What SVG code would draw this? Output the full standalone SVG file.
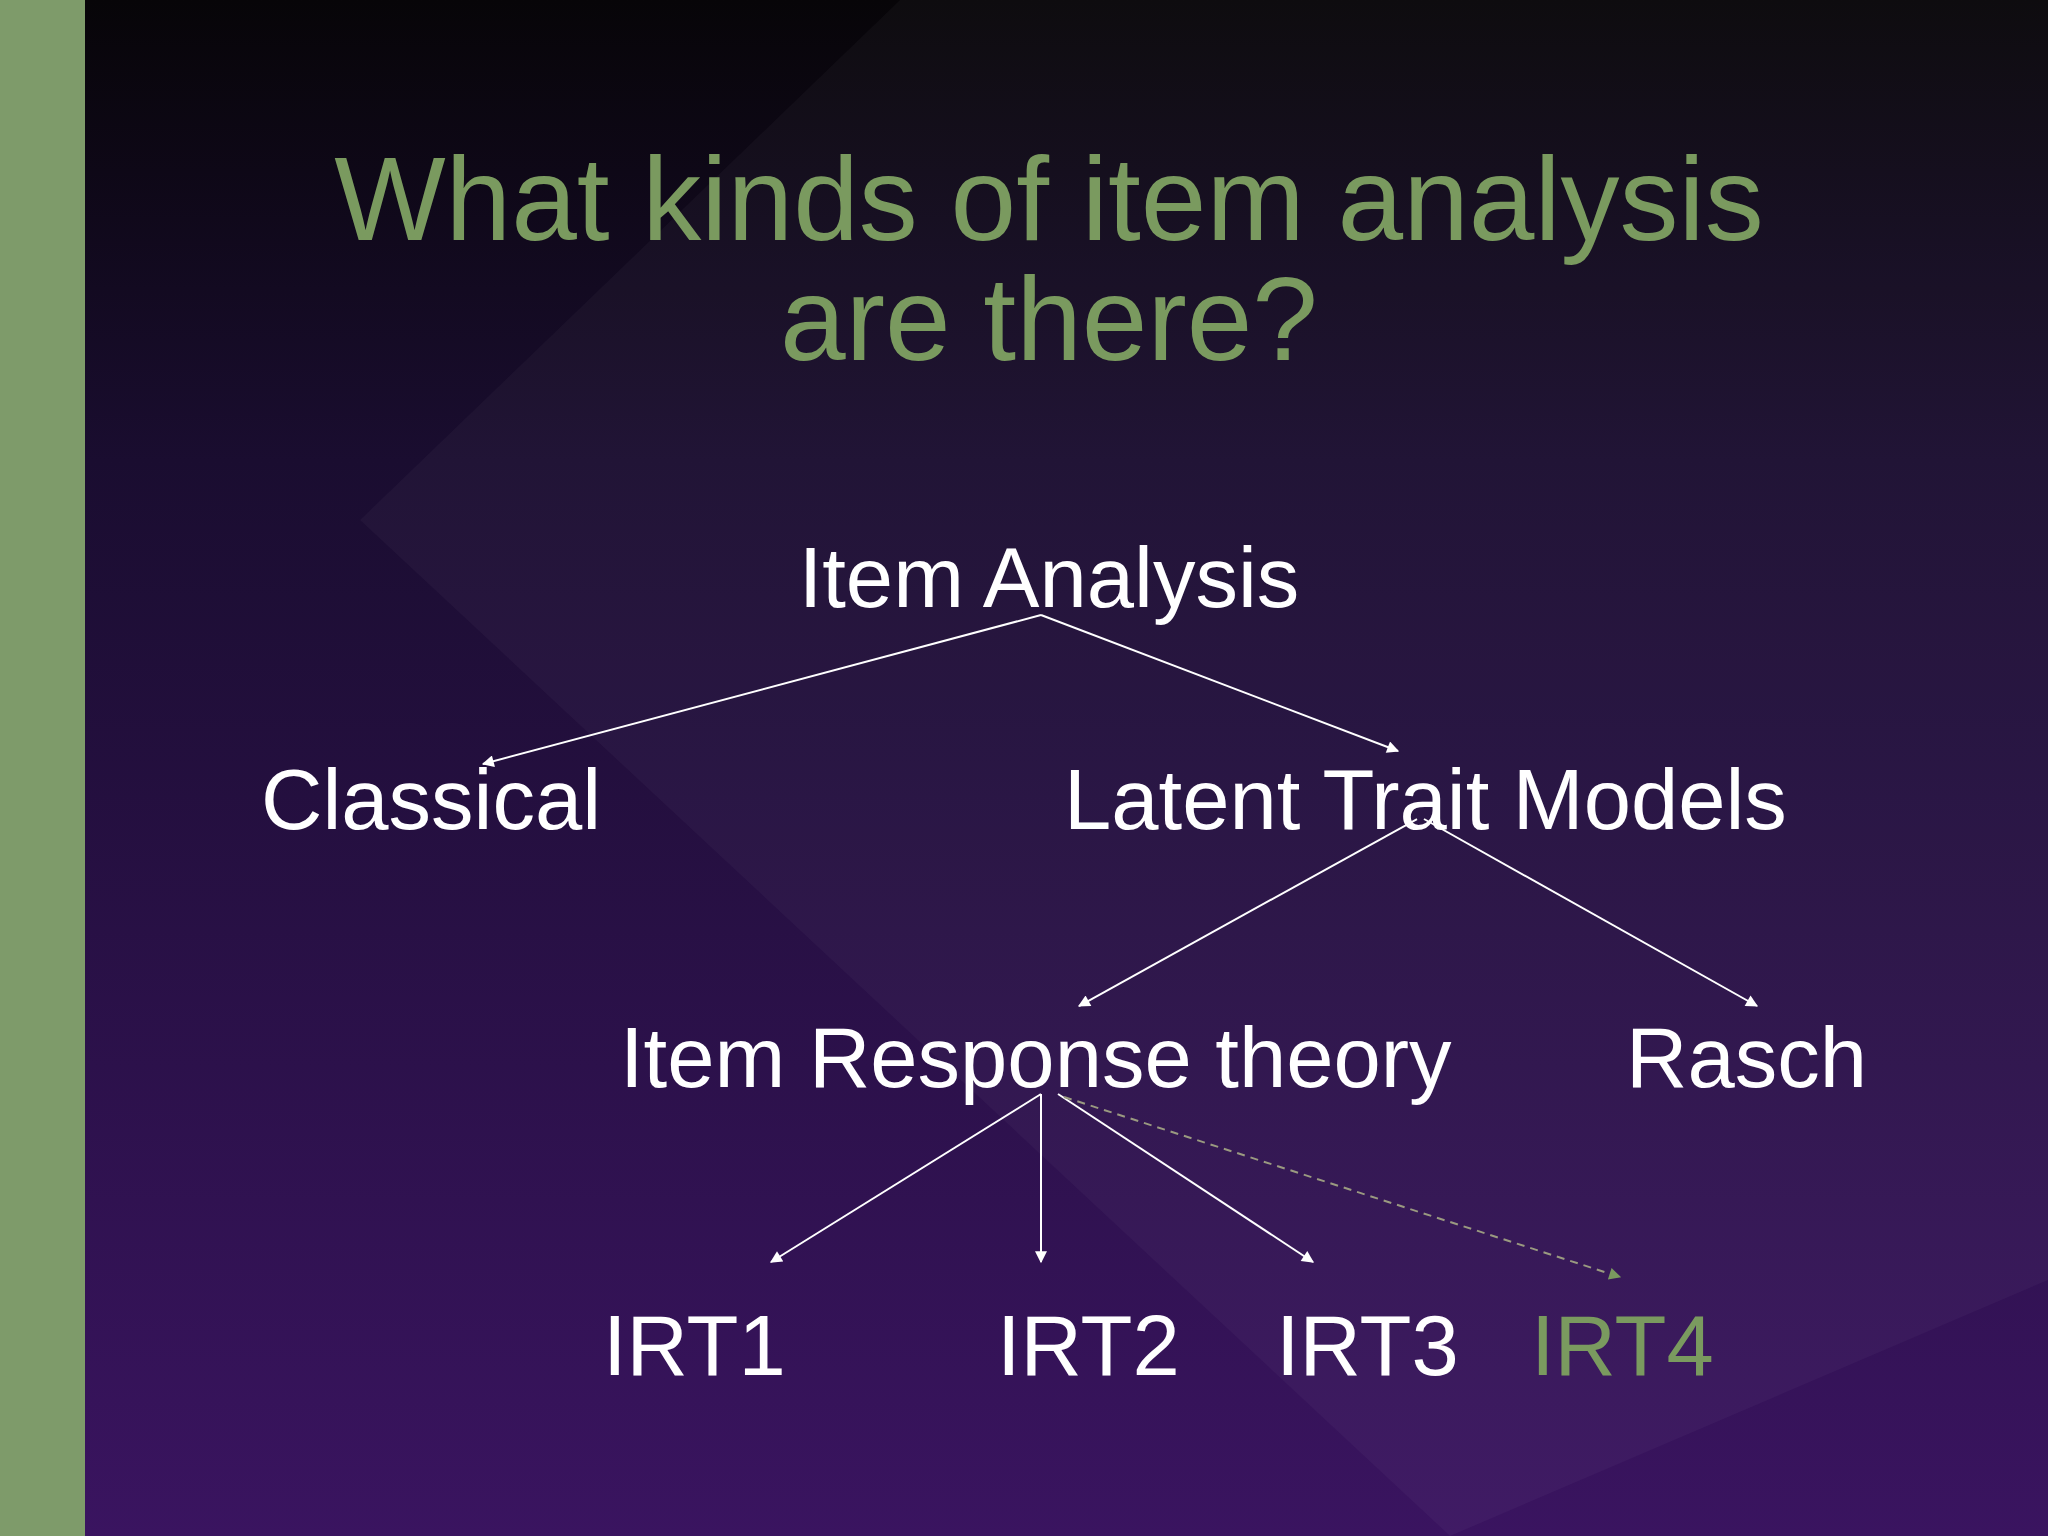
<svg xmlns="http://www.w3.org/2000/svg" width="2048" height="1536" viewBox="0 0 2048 1536">
<defs>
<linearGradient id="bg" x1="0" y1="0" x2="0" y2="1">
<stop offset="0" stop-color="#070508"/>
<stop offset="0.3" stop-color="#1a0d30"/>
<stop offset="1" stop-color="#3a1460"/>
</linearGradient>
<marker id="ah" viewBox="0 0 10 10" refX="9" refY="5" markerWidth="14" markerHeight="12" orient="auto" markerUnits="userSpaceOnUse">
<path d="M0,0 L10,5 L0,10 z" fill="#ffffff"/>
</marker>
<marker id="ahg" viewBox="0 0 10 10" refX="9" refY="5" markerWidth="14" markerHeight="12" orient="auto" markerUnits="userSpaceOnUse">
<path d="M0,0 L10,5 L0,10 z" fill="#7a9a5f"/>
</marker>
<style>
.t{font-family:"Liberation Sans",Arial,sans-serif;fill:#ffffff;font-size:85px}
.title{font-family:"Liberation Sans",Arial,sans-serif;fill:#7a9a5f;font-size:118px;text-anchor:middle}
.c{stroke:#ffffff;stroke-width:2;fill:none;marker-end:url(#ah)}
</style>
</defs>
<rect width="2048" height="1536" fill="url(#bg)"/>
<polygon points="900,0 2048,0 2048,1280 1450,1536 360,520" fill="#ffffff" opacity="0.03"/>
<rect x="0" y="0" width="85" height="1536" fill="#7e9b6a"/>
<g id="title">
<text class="title" x="1049" y="240">What kinds of item analysis</text>
<text class="title" x="1049" y="360">are there?</text>
</g>
<g id="connectors">
<line class="c" x1="1041" y1="615" x2="483" y2="764"/>
<line class="c" x1="1041" y1="615" x2="1398" y2="751"/>
<line class="c" x1="1417" y1="819" x2="1079" y2="1006"/>
<line class="c" x1="1424" y1="819" x2="1757" y2="1006"/>
<line class="c" x1="1041" y1="1094" x2="771" y2="1262"/>
<line class="c" x1="1041" y1="1094" x2="1041" y2="1262"/>
<line class="c" x1="1058" y1="1094" x2="1313" y2="1262"/>
<line x1="1064" y1="1097" x2="1620" y2="1277" stroke="#9a9a80" stroke-width="2" stroke-dasharray="8,6" marker-end="url(#ahg)"/>
</g>
<g id="itemAnalysis"><text class="t" x="1049" y="607" text-anchor="middle">Item Analysis</text></g>
<g id="classical"><text class="t" x="261" y="829">Classical</text></g>
<g id="ltm"><text class="t" x="1064" y="829">Latent Trait Models</text></g>
<g id="irt"><text class="t" x="620" y="1087">Item Response theory</text></g>
<g id="rasch"><text class="t" x="1626" y="1087">Rasch</text></g>
<g id="irt1"><text class="t" x="603" y="1375">IRT1</text></g>
<g id="irt2"><text class="t" x="997" y="1375">IRT2</text></g>
<g id="irt3"><text class="t" x="1276" y="1375">IRT3</text></g>
<g id="irt4"><text class="t" x="1531" y="1375" style="fill:#7a9a5f">IRT4</text></g>
</svg>
